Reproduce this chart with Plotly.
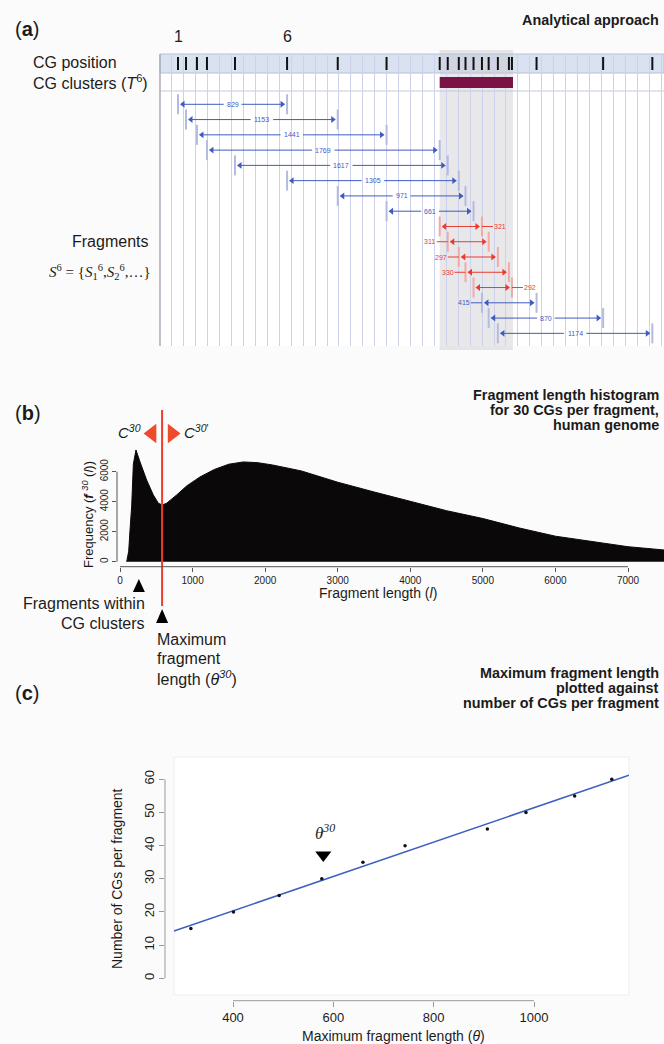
import numpy as np
import plotly.graph_objects as go

W, H = 664, 1044
def PX(px): return px / W
def PY(py): return 1 - py / H

FONT = "Liberation Sans, Arial, Helvetica, sans-serif"
SERIF = "Liberation Serif, Times New Roman, serif"
TXT = "#1b1b1b"

# ---------------- DATA ----------------
# (a) CG positions (bp) and fragment lengths for 6 CGs per fragment
cg_positions = [0, 61, 144, 220, 433, 829, 1214, 1585, 1989, 2050, 2134, 2185,
                2246, 2310, 2361, 2431, 2515, 2538, 2725, 3231, 3605]
frag_labels = [829, 1153, 1441, 1769, 1617, 1305, 971, 661, 321, 311, 297, 330,
               292, 415, 870, 1174]
frag_label_side = ["c", "c", "c", "c", "c", "c", "c", "c",
                   "r", "l", "l", "l", "r", "l", "c", "c"]
frag_in_cluster = [False] * 8 + [True] * 5 + [False] * 3
cgs_per_fragment = 6
cluster_first, cluster_last = 8, 17

# (b) fragment length histogram (30 CGs per fragment)
hist_length = [92, 120, 138, 161, 184, 220, 276, 367, 459, 528, 583, 643, 781, 919,
               1102, 1300, 1500, 1700, 1900, 2100, 2500, 3000, 3500, 4000, 4500,
               5000, 5500, 6000, 6500, 7000, 7500]
hist_freq = [0, 700, 2100, 3700, 6500, 7450, 6650, 5450, 4450, 3900, 3780, 3900,
             4450, 5050, 5650, 6150, 6500, 6650, 6600, 6450, 6050, 5300, 4650, 4000,
             3400, 2880, 2250, 1700, 1330, 1000, 780]
theta30 = 580
b_xticks = [0, 1000, 2000, 3000, 4000, 5000, 6000, 7000]
b_yticks = [0, 2000, 4000, 6000]

# (c) maximum fragment length vs number of CGs per fragment
max_frag_len = [316, 401, 492, 577, 659, 743, 907, 984, 1081, 1155]
n_cgs = [15, 20, 25, 30, 35, 40, 45, 50, 55, 60]
c_xticks = [400, 600, 800, 1000]
c_yticks = [0, 10, 20, 30, 40, 50, 60]

# ---------------- LAYOUT GEOMETRY ----------------
A_ORIGIN_PX, A_BP_PER_PX = 178.0, 7.6
def a_bp(px): return (px - A_ORIGIN_PX) * A_BP_PER_PX
A_LEFT, A_RIGHT, A_TOP, A_BOTTOM = 160, 664, 54, 346
GRID_PX = 11.93
ROW0, ROW_STEP = 104.3, 15.27

B_ZERO_PX, B_PX_PER_UNIT = 120.0, 508 / 7000
def b_x(px): return (px - B_ZERO_PX) / B_PX_PER_UNIT
def b_px(x): return B_ZERO_PX + x * B_PX_PER_UNIT
B_ZERO_PY, B_UNITS_PER_PX = 561.7, 2000 / 30
def b_y(py): return (B_ZERO_PY - py) * B_UNITS_PER_PX
B_LEFT, B_RIGHT, B_TOP, B_BOTTOM = 117, 664, 405, 566.7

C_X400_PX, C_PX_PER_UNIT = 233.0, 301 / 600
def c_x(px): return 400 + (px - C_X400_PX) / C_PX_PER_UNIT
C_ZERO_PY, C_PX_PER_Y = 978.3, 199 / 60
def c_y(py): return (C_ZERO_PY - py) / C_PX_PER_Y
C_LEFT, C_RIGHT, C_TOP, C_BOTTOM = 165, 629, 757, 1000.7
C_BOX_LEFT, C_BOX_BOTTOM = 174, 995

fig = go.Figure()
shapes = []
annos = []

def text(x, y, s, size=16, xanchor="center", yanchor="middle", color=TXT,
         family=FONT, angle=0, xref="paper", yref="paper"):
    annos.append(dict(x=x, y=y, xref=xref, yref=yref, text=s, showarrow=False,
                      xanchor=xanchor, yanchor=yanchor, textangle=angle,
                      font=dict(size=size, color=color, family=family)))

def up_triangle(cx, top, bottom, half_w, color="#000"):
    path = (f"M {PX(cx - half_w)},{PY(bottom)} L {PX(cx + half_w)},{PY(bottom)} "
            f"L {PX(cx)},{PY(top)} Z")
    shapes.append(dict(type="path", xref="paper", yref="paper", path=path,
                       fillcolor=color, line=dict(width=0), layer="above"))

# ================= PANEL (a) =================
shapes.append(dict(type="rect", xref="paper", yref="paper", x0=PX(A_LEFT), x1=PX(A_RIGHT),
                   y0=PY(A_BOTTOM), y1=PY(A_TOP), fillcolor="white", line_width=0, layer="below"))
shapes.append(dict(type="rect", xref="paper", yref="paper", x0=PX(A_LEFT), x1=PX(A_RIGHT),
                   y0=PY(73), y1=PY(54), fillcolor="#d9e2f0",
                   line=dict(color="#b8c2da", width=1), layer="below"))
# cluster highlight
shapes.append(dict(type="rect", xref="x", yref="paper",
                   x0=cg_positions[cluster_first], x1=cg_positions[cluster_last] + 8,
                   y0=PY(350), y1=PY(50), fillcolor="rgba(190,190,198,0.36)",
                   line_width=0, layer="below"))
shapes.append(dict(type="line", xref="paper", yref="paper", x0=PX(A_LEFT), x1=PX(A_RIGHT),
                   y0=PY(91), y1=PY(91), line=dict(color="#c3c8dc", width=1), layer="below"))
shapes.append(dict(type="line", xref="paper", yref="paper", x0=PX(A_LEFT), x1=PX(A_LEFT),
                   y0=PY(A_BOTTOM), y1=PY(A_TOP), line=dict(color="#a9acb8", width=1.5)))
# cluster bar
shapes.append(dict(type="rect", xref="x", yref="y",
                   x0=cg_positions[cluster_first], x1=cg_positions[cluster_last] + 8,
                   y0=88, y1=77, fillcolor="#7a1246", line_width=0, layer="above"))

# CG ticks
xs, ys = [], []
for p in cg_positions:
    xs += [p, p, None]
    ys += [57, 70, None]
fig.add_trace(go.Scatter(x=xs, y=ys, mode="lines", line=dict(color="#111111", width=2),
                         xaxis="x", yaxis="y", hoverinfo="skip"))

BLUE, BLUE_T = "#3f5bbf", "#b4bbe1"
RED, RED_T = "#ea3b30", "#f3a9a6"
BP = A_BP_PER_PX
groups = {True: dict(tx=[], ty=[], lx=[], ly=[], lm=[], ly2=[], rm=[], ry2=[]),
          False: dict(tx=[], ty=[], lx=[], ly=[], lm=[], ly2=[], rm=[], ry2=[])}
for i, lab in enumerate(frag_labels):
    s = cg_positions[i]
    e = cg_positions[i + cgs_per_fragment - 1]
    ry = ROW0 + i * ROW_STEP
    g = groups[frag_in_cluster[i]]
    col = RED if frag_in_cluster[i] else BLUE
    g["tx"] += [s, s, None, e, e, None]
    g["ty"] += [ry - 10, ry + 10, None, ry - 10, ry + 10, None]
    a, b = s + 3 * BP, e - 3 * BP
    side = frag_label_side[i]
    if side == "c":
        mid = (s + e) / 2
        half = (2.3 * len(str(lab)) + 2) * BP
        g["lx"] += [a, mid - half, None, mid + half, b, None]
        g["ly"] += [ry, ry, None, ry, ry, None]
        lx = mid
    elif side == "r":
        g["lx"] += [a, b, None, e, e + 11 * BP, None]
        g["ly"] += [ry, ry, None, ry, ry, None]
        lx = e + 18 * BP
    else:
        g["lx"] += [a, b, None, s - 11 * BP, s, None]
        g["ly"] += [ry, ry, None, ry, ry, None]
        lx = s - 18 * BP
    g["lm"].append(a + 2 * BP); g["ly2"].append(ry)
    g["rm"].append(b - 2 * BP); g["ry2"].append(ry)
    text(lx, ry, str(lab), size=7, color=col, xref="x", yref="y")

for red, g in groups.items():
    col, tcol = (RED, RED_T) if red else (BLUE, BLUE_T)
    fig.add_trace(go.Scatter(x=g["tx"], y=g["ty"], mode="lines", line=dict(color=tcol, width=2),
                             xaxis="x", yaxis="y", hoverinfo="skip"))
    fig.add_trace(go.Scatter(x=g["lx"], y=g["ly"], mode="lines", line=dict(color=col, width=1),
                             xaxis="x", yaxis="y", hoverinfo="skip"))
    fig.add_trace(go.Scatter(x=g["lm"], y=g["ly2"], mode="markers",
                             marker=dict(symbol="triangle-left", size=6, color=col),
                             xaxis="x", yaxis="y", hoverinfo="skip"))
    fig.add_trace(go.Scatter(x=g["rm"], y=g["ry2"], mode="markers",
                             marker=dict(symbol="triangle-right", size=6, color=col),
                             xaxis="x", yaxis="y", hoverinfo="skip"))

# panel (a) texts
TITLE_SIZE = 14.4
text(PX(13), PY(29), "(<b>a</b>)", size=20, xanchor="left")
text(PX(661), PY(20), "<b>Analytical approach</b>", size=TITLE_SIZE, xanchor="right")
text(cg_positions[0], PY(37), "1", size=16, xref="x")
text(cg_positions[cgs_per_fragment - 1], PY(37), str(cgs_per_fragment), size=16, xref="x")
text(PX(31), PY(63), "CG position", size=16, xanchor="left")
text(PX(31), PY(82), "CG clusters (<i>T</i><sup>6</sup>)", size=16, xanchor="left")
text(PX(150), PY(242), "Fragments", size=16, xanchor="right")
text(PX(153), PY(272),
     "<i>S</i><sup>6</sup> = {<i>S</i><sub>1</sub><sup>6</sup>,<i>S</i><sub>2</sub><sup>6</sup>,…}",
     size=15, xanchor="right", family=SERIF)

# ================= PANEL (b) =================
fig.add_trace(go.Scatter(x=hist_length, y=hist_freq, mode="lines", fill="tozeroy",
                         line=dict(color="#0a0808", width=1), fillcolor="#0a0808",
                         xaxis="x2", yaxis="y2", hoverinfo="skip"))
shapes.append(dict(type="line", xref="x2", yref="paper", x0=theta30, x1=theta30,
                   y0=PY(606), y1=PY(410), line=dict(color="#ef3b2c", width=2), layer="above"))
off = 10 / B_PX_PER_UNIT
fig.add_trace(go.Scatter(x=[theta30 - off, theta30 + off], y=[b_y(433.5), b_y(433.5)],
                         mode="markers",
                         marker=dict(symbol=["triangle-left", "triangle-right"], size=17,
                                     color="#ee4b2b"),
                         xaxis="x2", yaxis="y2", cliponaxis=False, hoverinfo="skip"))
first_mode = hist_length[int(np.argmax(hist_freq[:8]))]
up_triangle(b_px(first_mode + 40), 579, 592, 6)
up_triangle(b_px(theta30), 609, 623, 6)
# axis lines
shapes.append(dict(type="line", xref="x2", yref="paper", x0=b_xticks[0], x1=b_xticks[-1],
                   y0=PY(B_BOTTOM), y1=PY(B_BOTTOM), line=dict(color="#555", width=1)))
shapes.append(dict(type="line", xref="paper", yref="y2", x0=PX(B_LEFT), x1=PX(B_LEFT),
                   y0=b_yticks[0], y1=b_yticks[-1], line=dict(color="#555", width=1)))

text(PX(13), PY(413), "(<b>b</b>)", size=20, xanchor="left")
text(PX(661), PY(395), "<b>Fragment length histogram</b>", size=TITLE_SIZE, xanchor="right")
text(PX(661), PY(410), "<b>for 30 CGs per fragment,</b>", size=TITLE_SIZE, xanchor="right")
text(PX(661), PY(425), "<b>human genome</b>", size=TITLE_SIZE, xanchor="right")
text(PX(143), PY(432), "<i>C</i><sup><i>30</i></sup>", size=15, xanchor="right")
text(PX(182), PY(432), "<i>C</i><sup><i>30</i>'</sup>", size=15, xanchor="left")
text(PX(378), PY(593), "Fragment length (<i>l</i>)", size=14)
text(PX(88), PY(515), "Frequency (<b><i>f</i></b> <sup><i>30</i></sup> (<i>l</i>))", size=13, angle=-90)
text(PX(147), PY(603), "Fragments within", size=16, xanchor="right")
text(PX(147), PY(623), "CG clusters", size=16, xanchor="right")
text(PX(155), PY(639), "Maximum", size=16, xanchor="left")
text(PX(155), PY(658), "fragment", size=16, xanchor="left")
text(PX(155), PY(678), "length (<i>θ</i><sup><i>30</i></sup>)", size=16, xanchor="left")

# ================= PANEL (c) =================
shapes.append(dict(type="rect", xref="paper", yref="paper", x0=PX(C_BOX_LEFT), x1=PX(C_RIGHT),
                   y0=PY(C_BOX_BOTTOM), y1=PY(C_TOP), fillcolor="white",
                   line=dict(color="#eeeeee", width=1), layer="below"))
slope, intercept = np.polyfit(max_frag_len, n_cgs, 1)
fx = np.array([c_x(C_BOX_LEFT), c_x(C_RIGHT)])
fig.add_trace(go.Scatter(x=fx, y=slope * fx + intercept, mode="lines",
                         line=dict(color="#3d5fc0", width=1.6),
                         xaxis="x3", yaxis="y3", hoverinfo="skip"))
fig.add_trace(go.Scatter(x=max_frag_len, y=n_cgs, mode="markers",
                         marker=dict(size=3.5, color="#111"),
                         xaxis="x3", yaxis="y3", hoverinfo="skip"))
fig.add_trace(go.Scatter(x=[theta30], y=[c_y(855)], mode="markers",
                         marker=dict(symbol="triangle-down", size=14, color="#000"),
                         xaxis="x3", yaxis="y3", hoverinfo="skip"))
text(theta30 + 3, c_y(832), "<i>θ</i><sup><i>30</i></sup>", size=17, xref="x3", yref="y3",
     family=SERIF)
shapes.append(dict(type="line", xref="x3", yref="paper", x0=c_xticks[0], x1=c_xticks[-1],
                   y0=PY(C_BOTTOM), y1=PY(C_BOTTOM), line=dict(color="#999", width=1)))
shapes.append(dict(type="line", xref="paper", yref="y3", x0=PX(C_LEFT), x1=PX(C_LEFT),
                   y0=c_yticks[0], y1=c_yticks[-1], line=dict(color="#999", width=1)))

text(PX(13), PY(693), "(<b>c</b>)", size=20, xanchor="left")
text(PX(661), PY(673), "<b>Maximum fragment length</b>", size=TITLE_SIZE, xanchor="right")
text(PX(661), PY(688), "<b>plotted against</b>", size=TITLE_SIZE, xanchor="right")
text(PX(661), PY(703), "<b>number of CGs per fragment</b>", size=TITLE_SIZE, xanchor="right")
text(PX(393), PY(1036), "Maximum fragment length (<i>θ</i>)", size=14)
text(PX(117), PY(879), "Number of CGs per fragment", size=14, angle=-90)

# ================= AXES =================
hidden = dict(showgrid=False, zeroline=False, showline=False, showticklabels=False,
              ticks="", fixedrange=True)
fig.update_layout(
    width=W, height=H, margin=dict(l=0, r=0, t=0, b=0), showlegend=False,
    paper_bgcolor="#fbfbfb", plot_bgcolor="rgba(0,0,0,0)",
    font=dict(family=FONT, color=TXT),
    xaxis=dict(domain=[PX(A_LEFT), PX(A_RIGHT)], range=[a_bp(A_LEFT), a_bp(A_RIGHT)],
               showgrid=True, gridcolor="#cdd2ea", gridwidth=1,
               tickmode="linear", tick0=a_bp(A_LEFT), dtick=GRID_PX * A_BP_PER_PX,
               showticklabels=False, ticks="", zeroline=False, showline=False,
               anchor="y", fixedrange=True),
    yaxis=dict(domain=[PY(A_BOTTOM), PY(A_TOP)], range=[A_BOTTOM, A_TOP], anchor="x", **hidden),
    xaxis2=dict(domain=[PX(B_LEFT), PX(B_RIGHT)], range=[b_x(B_LEFT), b_x(B_RIGHT)],
                anchor="y2", tickmode="array", tickvals=b_xticks, ticks="outside",
                ticklen=4, tickcolor="#555", tickfont=dict(size=10, color=TXT),
                showgrid=False, zeroline=False, showline=False, fixedrange=True),
    yaxis2=dict(domain=[PY(B_BOTTOM), PY(B_TOP)], range=[b_y(B_BOTTOM), b_y(B_TOP)],
                anchor="x2", tickmode="array", tickvals=b_yticks, ticks="outside",
                ticklen=4, tickcolor="#555", tickangle=-90, tickfont=dict(size=10, color=TXT),
                showgrid=False, zeroline=False, showline=False, fixedrange=True),
    xaxis3=dict(domain=[PX(C_LEFT), PX(C_RIGHT)], range=[c_x(C_LEFT), c_x(C_RIGHT)],
                anchor="y3", tickmode="array", tickvals=c_xticks, ticks="outside",
                ticklen=5, tickcolor="#999", tickfont=dict(size=13, color=TXT),
                showgrid=False, zeroline=False, showline=False, fixedrange=True),
    yaxis3=dict(domain=[PY(C_BOTTOM), PY(C_TOP)], range=[c_y(C_BOTTOM), c_y(C_TOP)],
                anchor="x3", tickmode="array", tickvals=c_yticks, ticks="outside",
                ticklen=5, tickcolor="#999", tickangle=-90, tickfont=dict(size=13, color=TXT),
                showgrid=False, zeroline=False, showline=False, fixedrange=True),
    shapes=shapes, annotations=annos,
)

fig.write_html("out.html")
